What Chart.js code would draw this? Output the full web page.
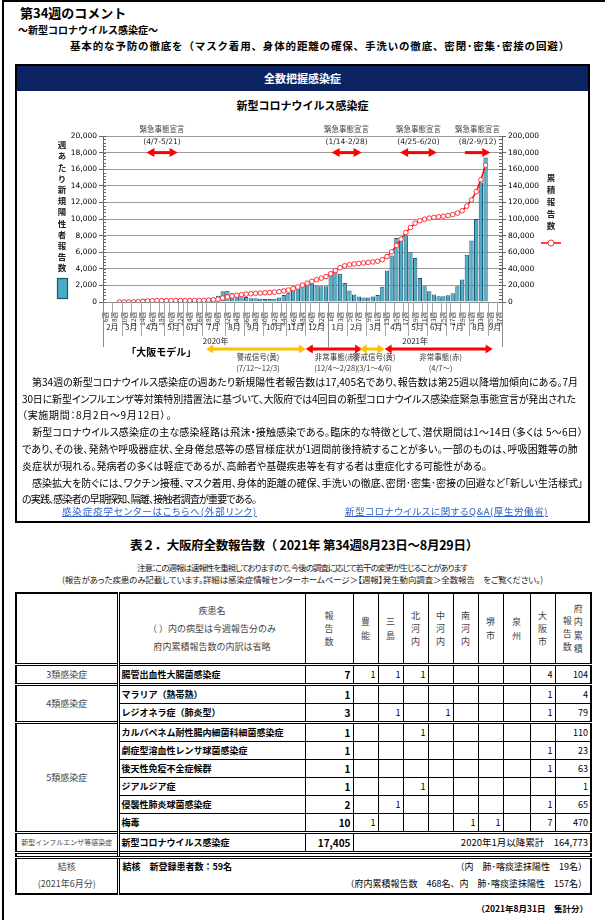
<!DOCTYPE html>
<html><head><meta charset="utf-8">
<script src="https://cdn.jsdelivr.net/npm/chart.js@4.4.0/dist/chart.umd.min.js"></script>
<style>
body{margin:0;width:605px;height:920px;position:relative;background:#fff;font-family:"Noto Sans CJK JP","Noto Sans",sans-serif;color:#000;overflow:hidden}
.a{position:absolute;white-space:nowrap;line-height:1}
.p{font-feature-settings:"palt"}
.frame{position:absolute;left:2px;top:0;width:640px;height:940px;border-left:2px solid #000;border-top:2px solid #000}
.box{position:absolute;left:15px;top:64px;width:571px;height:455px;border:2px solid #000}
.navy{position:absolute;left:0;top:0;width:571px;height:25px;background:#0b2362;color:#fff;font-weight:bold;font-size:11px;text-align:center;line-height:25px}
.ln{font-size:10px;left:22px}
.lk{font-size:9.5px;color:#2f5fc4;text-decoration:underline}
#cv{position:absolute;left:18px;top:112px}
table{position:absolute;left:15px;top:592px;border-collapse:collapse;table-layout:fixed;width:575px;border:2px solid #000;font-size:9px}
td{border:1px solid #000;padding:0 2px;overflow:hidden;white-space:nowrap;height:17px;line-height:1}
.hd td{height:69px;color:#444;text-align:center;font-size:9px;line-height:1.9}
.hd td.dn{line-height:2}
.hd td.v{line-height:1.45}
.cat{text-align:center;color:#444}
.dz{font-weight:bold;text-align:left;border-left:3px double #000}
.n{text-align:right}
.nb{text-align:right;font-weight:bold;font-size:10px}
.gt td{border-top:3px double #000}
.sp td{height:2px;padding:0;border-top:3px double #000;border-bottom:3px double #000}
</style></head><body>
<div class="frame"></div>
<div class="a" style="left:20px;top:6px;font-size:13px;font-weight:bold">第34週のコメント</div>
<div class="a" style="left:18px;top:25px;font-size:10px;font-weight:bold">～新型コロナウイルス感染症～</div>
<div class="a fit" data-w="500" style="left:70px;top:41px;font-size:10.5px;font-weight:bold">基本的な予防の徹底を（マスク着用、身体的距離の確保、手洗いの徹底、密閉･密集･密接の回避）</div>
<div class="box"><div class="navy">全数把握感染症</div></div>
<div class="a" style="left:0;width:605px;text-align:center;top:100px;font-size:11px;font-weight:bold">新型コロナウイルス感染症</div>
<canvas id="cv" width="570" height="270"></canvas>
<div class="a ln p fit" data-w="556" style="top:377px">　第34週の新型コロナウイルス感染症の週あたり新規陽性者報告数は17,405名であり、報告数は第25週以降増加傾向にある。7月</div>
<div class="a ln p fit" data-w="554" style="top:394px">30日に新型インフルエンザ等対策特別措置法に基づいて、大阪府では4回目の新型コロナウイルス感染症緊急事態宣言が発出された</div>
<div class="a ln p fit" data-w="150" style="top:410px">（実施期間：8月2日～9月12日）。</div>
<div class="a ln p fit" data-w="561" style="top:427px">　新型コロナウイルス感染症の主な感染経路は飛沫・接触感染である。臨床的な特徴として、潜伏期間は1～14日（多くは 5～6日）</div>
<div class="a ln p fit" data-w="556" style="top:444px">であり、その後、発熱や呼吸器症状、全身倦怠感等の感冒様症状が1週間前後持続することが多い。一部のものは、呼吸困難等の肺</div>
<div class="a ln p fit" data-w="465" style="top:461px">炎症状が現れる。発病者の多くは軽症であるが、高齢者や基礎疾患等を有する者は重症化する可能性がある。</div>
<div class="a ln p fit" data-w="561" style="top:478px">　感染拡大を防ぐには、ワクチン接種、マスク着用、身体的距離の確保、手洗いの徹底、密閉･密集･密接の回避など「新しい生活様式」</div>
<div class="a ln p fit" data-w="234" style="top:494px">の実践、感染者の早期探知、隔離、接触者調査が重要である。</div>
<div class="a lk p fit" data-w="195" style="left:62px;top:507px">感染症疫学センターはこちらへ(外部リンク)</div>
<div class="a lk p fit" data-w="203" style="left:345px;top:507px">新型コロナウイルスに関するQ&amp;A(厚生労働省)</div>
<div class="a fit" data-w="348" style="left:130px;top:539px;font-size:12.5px;font-weight:bold">表２．大阪府全数報告数（ 2021年 第34週8月23日～8月29日）</div>
<div class="a p fit" data-w="330" style="left:137px;top:563px;font-size:8.5px;color:#222">注意：この週報は速報性を重視しておりますので、今後の調査に応じて若干の変更が生じることがあります</div>
<div class="a p fit" data-w="481" style="left:62px;top:575px;font-size:8.5px;color:#222">(報告があった疾患のみ記載しています。詳細は感染症情報センターホームページ＞【週報】発生動向調査＞全数報告　をご覧ください。)</div>
<table>
<colgroup><col style="width:102px"><col style="width:187px"><col style="width:48px"><col style="width:25px"><col style="width:25px"><col style="width:25px"><col style="width:25px"><col style="width:25px"><col style="width:25px"><col style="width:27px"><col style="width:25px"><col style="width:36px"></colgroup>
<tr class="hd"><td></td><td class="dn" style="border-left:3px double #000">疾患名<br>（ ）内の病型は今週報告分のみ<br>府内累積報告数の内訳は省略</td><td class="v">報<br>告<br>数</td><td class="v">豊<br>能</td><td class="v">三<br>島</td><td class="v">北<br>河<br>内</td><td class="v">中<br>河<br>内</td><td class="v">南<br>河<br>内</td><td class="v">堺<br>市</td><td class="v">泉<br>州</td><td class="v">大<br>阪<br>市</td><td class="v" style="padding:0"><span style="display:inline-block;vertical-align:middle;line-height:1.45;margin-top:10px">報<br>告<br>数</span><span style="display:inline-block;vertical-align:middle;line-height:1.45;margin-left:2px">府<br>内<br>累<br>積</span></td></tr>
<tr class="gt"><td class="cat">3類感染症</td><td class="dz">腸管出血性大腸菌感染症</td><td class="nb">7</td><td class="n">1</td><td class="n">1</td><td class="n">1</td><td></td><td></td><td></td><td></td><td class="n">4</td><td class="n">104</td></tr>
<tr class="gt"><td class="cat" rowspan="2">4類感染症</td><td class="dz">マラリア（熱帯熱）</td><td class="nb">1</td><td></td><td></td><td></td><td></td><td></td><td></td><td></td><td class="n">1</td><td class="n">4</td></tr>
<tr><td class="dz">レジオネラ症（肺炎型）</td><td class="nb">3</td><td></td><td class="n">1</td><td></td><td class="n">1</td><td></td><td></td><td></td><td class="n">1</td><td class="n">79</td></tr>
<tr class="gt"><td class="cat" rowspan="6">5類感染症</td><td class="dz">カルバペネム耐性腸内細菌科細菌感染症</td><td class="nb">1</td><td></td><td></td><td class="n">1</td><td></td><td></td><td></td><td></td><td></td><td class="n">110</td></tr>
<tr><td class="dz">劇症型溶血性レンサ球菌感染症</td><td class="nb">1</td><td></td><td></td><td></td><td></td><td></td><td></td><td></td><td class="n">1</td><td class="n">23</td></tr>
<tr><td class="dz">後天性免疫不全症候群</td><td class="nb">1</td><td></td><td></td><td></td><td></td><td></td><td></td><td></td><td class="n">1</td><td class="n">63</td></tr>
<tr><td class="dz">ジアルジア症</td><td class="nb">1</td><td></td><td></td><td class="n">1</td><td></td><td></td><td></td><td></td><td></td><td class="n">1</td></tr>
<tr><td class="dz">侵襲性肺炎球菌感染症</td><td class="nb">2</td><td></td><td class="n">1</td><td></td><td></td><td></td><td></td><td></td><td class="n">1</td><td class="n">65</td></tr>
<tr><td class="dz">梅毒</td><td class="nb">10</td><td class="n">1</td><td></td><td></td><td></td><td class="n">1</td><td class="n">1</td><td></td><td class="n">7</td><td class="n">470</td></tr>
<tr class="gt"><td class="cat" style="font-size:7px;padding:0">新型インフルエンザ等感染症</td><td class="dz">新型コロナウイルス感染症</td><td class="nb">17,405</td><td colspan="9" class="n" style="font-size:9.5px">2020年1月以降累計　164,773</td></tr>
<tr class="sp"><td></td><td style="border-left:3px double #000" colspan="11"></td></tr>
<tr><td class="cat" style="height:34px;line-height:1.85">結核<br>(2021年6月分)</td><td colspan="11" style="border-left:3px double #000;line-height:1.85;padding:0 3px"><div style="display:flex;justify-content:space-between"><b>結核　新登録患者数：59名</b><span>（内　肺･喀痰塗抹陽性　19名）</span></div><div style="text-align:right">（府内累積報告数　468名、内　肺･喀痰塗抹陽性　157名）</div></td></tr>
</table>
<div class="a" style="right:17px;top:904px;font-size:8.5px;font-weight:bold">（2021年8月31日　集計分）</div>
<script>
// ---- data ----
const weeks2020 = [6,7,8,9,10,11,12,13,14,15,16,17,18,19,20,21,22,23,24,25,26,27,28,29,30,31,32,33,34,35,36,37,38,39,40,41,42,43,44,45,46,47,48,49,50,51,52,53];
const weeks2021 = [1,2,3,4,5,6,7,8,9,10,11,12,13,14,15,16,17,18,19,20,21,22,23,24,25,26,27,28,29,30,31,32,33,34,35,36,37];
const newCases2020 = [0,0,0,10,50,50,80,210,400,400,300,150,80,30,20,5,5,10,10,20,40,100,280,450,750,1300,1350,1050,950,800,600,450,450,400,350,350,400,550,850,1100,1600,2000,2300,2400,2200,2000,1900,1900];
const newCases2021 = [3400,3800,3400,2300,1400,900,650,550,550,650,850,1850,3800,5600,7700,7600,8000,6000,5300,2900,1900,1300,900,700,700,800,1050,1900,2700,5700,7400,10000,14400,17405,null,null,null];
const cumulative2020 = [null,null,null,10,60,110,190,400,800,1200,1500,1650,1730,1760,1780,1785,1790,1800,1810,1830,1870,1970,2250,2700,3450,4750,6100,7150,8100,8900,9500,9950,10400,10800,11150,11500,11900,12450,13300,14400,16000,18000,20300,22700,24900,26900,28800,30700];
const cumulative2021 = [34100,37900,41300,43600,45000,45900,46550,47100,47650,48300,49150,51000,54800,60400,68100,75700,83700,89700,95000,97900,99800,101100,102000,102700,103400,104200,105250,107150,109850,115550,122950,132950,147368,164773,null,null,null];
const months2020 = ["2月","3月","4月","5月","6月","7月","8月","9月","10月","11月","12月"];
const monthWeeks2020 = [4,4,5,4,4,5,4,4,5,4,5];
const months2021 = ["1月","2月","3月","4月","5月","6月","7月","8月","9月"];
const monthWeeks2021 = [4,4,4,5,4,4,5,4,3];
const years = ["2020年","2021年"];
const emergencyTitle = "緊急事態宣言";
const emergencyPeriods = ["(4/7-5/21)","(1/14-2/28)","(4/25-6/20)","(8/2-9/12)"];
const emergencyFrom = [8.75,48.2,62.8,76.6];
const emergencyTo = [15.4,54.6,70.6,82.0];
const emergencyBothHeads = [true,true,true,false];
const modelTitle = "「大阪モデル」";
const modelStates = ["警戒信号(黄)","非常事態(赤)","警戒信号(黄)","非常事態(赤)"];
const modelPeriods = ["(7/12～12/3)","(12/4～2/28)","(3/1～4/6)","(4/7～)"];
const modelFrom = [21.5,42.7,54.2,59.5];
const modelTo = [42.7,54.7,59.5,82.5];
const modelColors = ["#FFC000","#FF0000","#FFC000","#FF0000"];
const leftTitle = "週あたり新規陽性者報告数";
const rightTitle = "累積報告数";

const labels = weeks2020.map(w=>w+"週").concat(weeks2021.map(w=>w+"週"));
const barData = newCases2020.concat(newCases2021);
const lineData = cumulative2020.concat(cumulative2021);
const BAR = "#4bacc6", BAR_B = "#1d5570", F = '"DejaVu Sans","Noto Sans CJK JP",sans-serif', J = '"Noto Sans CJK JP",sans-serif';

function arrow(ctx,x1,x2,y,color,both,shaft,hl,hh){
  ctx.save();ctx.fillStyle=color;ctx.strokeStyle=color;ctx.lineWidth=shaft;
  ctx.beginPath();ctx.moveTo(both?x1+hl-1:x1,y);ctx.lineTo(x2-hl+1,y);ctx.stroke();
  ctx.beginPath();ctx.moveTo(x2,y);ctx.lineTo(x2-hl,y-hh/2);ctx.lineTo(x2-hl,y+hh/2);ctx.closePath();ctx.fill();
  if(both){ctx.beginPath();ctx.moveTo(x1,y);ctx.lineTo(x1+hl,y-hh/2);ctx.lineTo(x1+hl,y+hh/2);ctx.closePath();ctx.fill();}
  ctx.restore();
}
function vtext(ctx,str,x,y0,step){ for(let i=0;i<str.length;i++) ctx.fillText(str[i],x,y0+i*step); }

const annot = {
  id:'annot',
  afterDraw(chart){
    const ctx=chart.ctx, a=chart.chartArea, x=chart.scales.x, y=chart.scales.y, y2=chart.scales.y2;
    const px=v=>x.getPixelForValue(v);
    ctx.save();
    ctx.strokeStyle="#666";ctx.lineWidth=1;
    for(let v=0;v<=20000;v+=400){const yy=Math.round(y.getPixelForValue(v))+0.5;ctx.beginPath();ctx.moveTo(a.left,yy);ctx.lineTo(a.left+3,yy);ctx.stroke();}
    for(let v=0;v<=200000;v+=4000){const yy=Math.round(y2.getPixelForValue(v))+0.5;ctx.beginPath();ctx.moveTo(a.right-3,yy);ctx.lineTo(a.right,yy);ctx.stroke();}
    ctx.strokeStyle="#a6a6a6";
    for(let i=0;i<=labels.length;i+=2){const xx=Math.round(px(i-0.5))+0.5;ctx.beginPath();ctx.moveTo(xx,a.bottom);ctx.lineTo(xx,a.bottom+16);ctx.stroke();}
    ctx.fillStyle="#222";ctx.font="8px "+J;ctx.textAlign="center";ctx.textBaseline="middle";
    let idx=0;
    const allMonths=months2020.concat(months2021), allMW=monthWeeks2020.concat(monthWeeks2021);
    for(let m=0;m<allMonths.length;m++){
      const s=idx, e=idx+allMW[m];
      const xs=Math.round(px(s-0.5))+0.5;
      ctx.beginPath();ctx.moveTo(xs,a.bottom);ctx.lineTo(xs,a.bottom+34);ctx.stroke();
      ctx.fillText(allMonths[m],(px(s-0.5)+px(e-0.5))/2,a.bottom+25);
      idx=e;
    }
    const yb=[0,weeks2020.length,labels.length];
    ctx.strokeStyle="#8c8c8c";
    yb.forEach(b=>{const xx=Math.round(px(b-0.5))+0.5;ctx.beginPath();ctx.moveTo(xx,a.bottom);ctx.lineTo(xx,a.bottom+45);ctx.stroke();});
    ctx.fillText(years[0],(px(-0.5)+px(yb[1]-0.5))/2,a.bottom+39);
    ctx.fillText(years[1],(px(yb[1]-0.5)+px(yb[2]-0.5))/2,a.bottom+39);
    const ya=y.getPixelForValue(18000);
    for(let k=0;k<emergencyPeriods.length;k++){
      const x1=px(emergencyFrom[k]), x2=px(emergencyTo[k]), xc=(x1+x2)/2;
      ctx.fillStyle="#444";ctx.font="7.5px "+J;ctx.fillText(emergencyTitle,xc,a.top-7);
      ctx.fillStyle="#222";ctx.font="7.5px "+F;ctx.fillText(emergencyPeriods[k],xc,a.top+6);
      arrow(ctx,x1,x2,ya,"#FF0000",emergencyBothHeads[k],3,8,9);
    }
    const ym=a.bottom+47;
    for(let k=0;k<modelStates.length;k++){
      const x1=px(modelFrom[k]), x2=px(modelTo[k]), xc=(x1+x2)/2;
      arrow(ctx,x1,x2,ym,modelColors[k],true,3,7,9);
      ctx.fillStyle="#333";ctx.font="7.5px "+J;
      ctx.fillText(modelStates[k],xc+2,ym+8);
      ctx.fillText(modelPeriods[k],xc+2,ym+19);
    }
    ctx.fillStyle="#000";ctx.font="bold 10px "+J;ctx.textAlign="right";
    ctx.fillText(modelTitle,px(modelFrom[0])-10,ym+3);
    ctx.textAlign="center";ctx.fillStyle="#222";ctx.font="bold 8.5px "+J;
    vtext(ctx,leftTitle,44,33,11.2);
    ctx.fillStyle=BAR;ctx.fillRect(39.5,166.5,10,20);ctx.strokeStyle=BAR_B;ctx.lineWidth=1.2;ctx.strokeRect(39.5,166.5,10,20);
    ctx.fillStyle="#222";
    vtext(ctx,rightTitle,533,66,12);
    ctx.strokeStyle="#FF0000";ctx.lineWidth=1.5;ctx.beginPath();ctx.moveTo(523,131);ctx.lineTo(543,131);ctx.stroke();
    ctx.fillStyle="#fff";ctx.strokeStyle="#ff3040";ctx.lineWidth=1;ctx.beginPath();ctx.arc(533,131,3,0,Math.PI*2);ctx.fill();ctx.stroke();
    ctx.restore();
  }
};

new Chart(document.getElementById('cv'),{
  data:{labels:labels,datasets:[
    {type:'line',data:lineData,yAxisID:'y2',order:0,borderColor:'#FF0000',borderWidth:1.5,pointRadius:2.3,pointBackgroundColor:'#fff',pointBorderColor:'#ff3040',pointBorderWidth:1,tension:0,spanGaps:false},
    {type:'bar',data:barData,yAxisID:'y',order:1,backgroundColor:BAR,borderColor:BAR_B,borderWidth:1,categoryPercentage:1,barPercentage:0.92}
  ]},
  options:{
    responsive:false,animation:false,devicePixelRatio:1,
    layout:{padding:{left:0,right:0,top:24,bottom:0}},
    plugins:{legend:{display:false},tooltip:{enabled:false}},
    scales:{
      x:{grid:{display:false},border:{color:'#8c8c8c'},
         ticks:{autoSkip:false,maxRotation:90,minRotation:90,padding:2,color:'#333',font:{size:6.5,family:J},callback:(v,i)=>i%2===0?labels[i]:''},
         afterFit(s){s.height=80;}},
      y:{position:'left',min:0,max:20000,
         ticks:{stepSize:2000,padding:2,color:'#000',font:{size:7.5,family:F},callback:v=>v.toLocaleString('en-US')},
         grid:{color:'#9a9a9a',tickLength:4,tickColor:'#666'},border:{color:'#666'},
         afterFit(s){s.width=85;}},
      y2:{position:'right',min:0,max:200000,
         ticks:{stepSize:20000,padding:2,color:'#000',font:{size:7.5,family:F},callback:v=>v.toLocaleString('en-US')},
         grid:{drawOnChartArea:false,tickLength:4,color:'#666'},border:{color:'#666'},
         afterFit(s){s.width=86;}}
    }
  },
  plugins:[annot]
});

document.querySelectorAll('.fit').forEach(el=>{
  const w=+el.dataset.w, cur=el.getBoundingClientRect().width, n=[...el.textContent].length;
  if(n>1) el.style.letterSpacing=((w-cur)/n)+'px';
});
</script>
</body></html>
